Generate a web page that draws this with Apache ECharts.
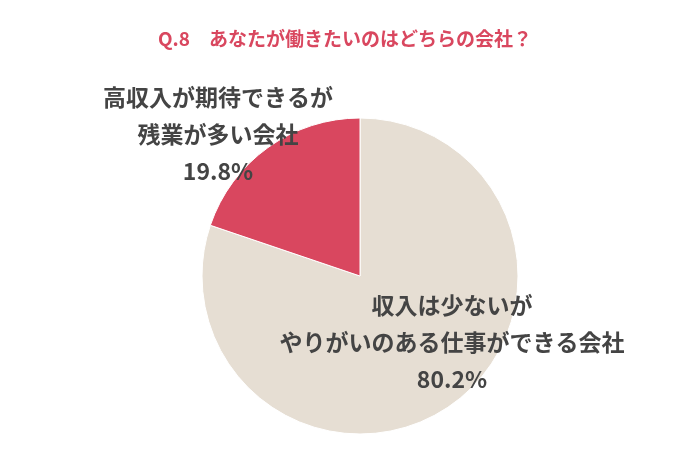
<!DOCTYPE html>
<html><head><meta charset="utf-8">
<script src="https://cdn.jsdelivr.net/npm/echarts@6/dist/echarts.min.js"></script>
<style>html,body{margin:0;padding:0;background:#fff}#c{width:690px;height:460px}</style>
</head><body><div id="c"></div>
<script>
const title = 'Q.8　あなたが働きたいのはどちらの会社？';
const categories = ['収入は少ないが\nやりがいのある仕事ができる会社', '高収入が期待できるが\n残業が多い会社'];
const values = [80.2, 19.8];
const colors = ['#e6ded3', '#d9475f'];
const chart = echarts.init(document.getElementById('c'));
chart.setOption({
  animation: false,
  title: {text: title, left: 'center', top: 24, textStyle: {color: '#d9475f', fontSize: 19, fontWeight: 'bold', fontFamily: 'Noto Sans CJK JP'}},
  series: [{
    type: 'pie', center: [360, 276], radius: 158, startAngle: 90, clockwise: true,
    itemStyle: {borderColor: '#fff', borderWidth: 1},
    data: categories.map((c, i) => ({name: c, value: values[i], itemStyle: {color: colors[i]}})),
    label: {position: 'inside', formatter: p => p.name + '\n' + p.value + '%', color: '#444', fontSize: 23, fontWeight: 'bold', lineHeight: 37, align: 'center', fontFamily: 'Noto Sans CJK JP'},
    labelLine: {show: false},
    labelLayout: p => p.dataIndex === 0 ? {x: 452, y: 342, align: 'center', verticalAlign: 'middle'} : {x: 218, y: 134, align: 'center', verticalAlign: 'middle'}
  }]
});
</script></body></html>
